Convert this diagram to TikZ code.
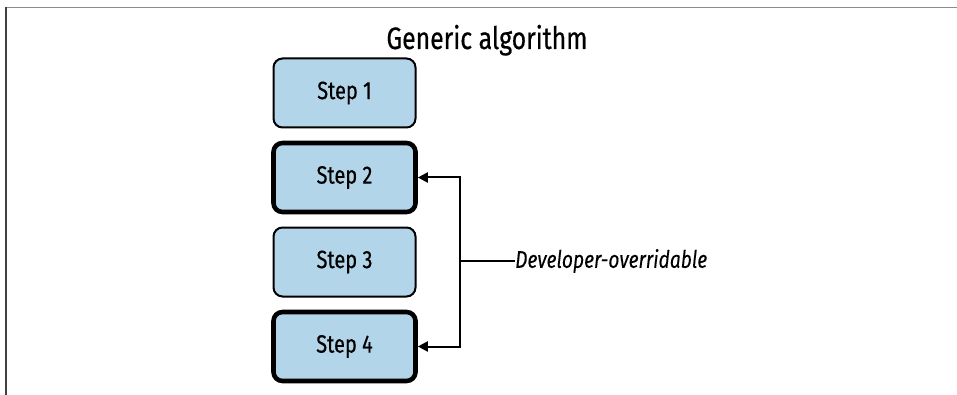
\documentclass[tikz,border=0pt]{standalone}
\usepackage{fontspec}
\setmainfont{Fira Sans}[FakeStretch=0.8, FakeBold=0.5, ItalicFeatures={FakeStretch=0.8, FakeBold=0.15}]
\usetikzlibrary{arrows.meta}
\definecolor{boxblue}{HTML}{B3D5EA}
\tikzset{
  stepbox/.style={draw=black, fill=boxblue, rounded corners=9pt, minimum width=142pt, minimum height=69pt, inner sep=0pt, font=\fontsize{25}{28}\selectfont, line width=2pt},
  thickbox/.style={stepbox, line width=4.6pt},
  conn/.style={line width=2pt, -{Triangle[length=10pt,width=10pt]}},
}
\begin{document}
\begin{tikzpicture}[x=1pt,y=-1pt]
\useasboundingbox (0,0) rectangle (957,395);
\draw[gray!90, line width=1.8pt] (5,7.5) -- (957,7.5);
\draw[black!75, line width=1.3pt] (6,7.5) -- (6,395);
\node[font=\fontsize{31}{34}\selectfont, anchor=base] (title) at (487,49) {Generic algorithm};
\node[stepbox] (s1) at (344.5,93) {Step 1};
\node[thickbox] (s2) at (344.5,177.5) {Step 2};
\node[stepbox] (s3) at (344.5,262) {Step 3};
\node[thickbox] (s4) at (344.5,346.5) {Step 4};
\coordinate (j3) at (460,261);
\node[font=\fontsize{24}{26}\selectfont\itshape, anchor=west, inner sep=0pt] (lab) at (515,261) {Developer-overridable};
\draw[conn] (j3) |- (s2.east);
\draw[conn] (j3) |- (s4.east);
\draw[line width=2pt] (j3) -- (lab.west);
\end{tikzpicture}
\end{document}
